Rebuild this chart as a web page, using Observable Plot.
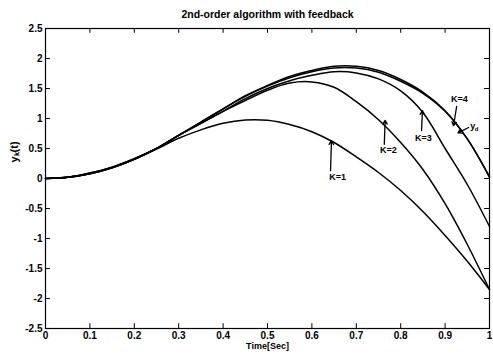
<!DOCTYPE html>
<html>
<head>
<meta charset="utf-8">
<script src="https://cdn.jsdelivr.net/npm/d3@7"></script>
<script src="https://cdn.jsdelivr.net/npm/@observablehq/plot@0.6"></script>
<style>
  html, body { margin: 0; padding: 0; background: white; }
</style>
</head>
<body>
<div id="chart"></div>
<script>
const title = "2nd-order algorithm with feedback";
const xLabel = "Time[Sec]";
const yLabel = "yₖ(t)";
const xTicks = [0, 0.1, 0.2, 0.3, 0.4, 0.5, 0.6, 0.7, 0.8, 0.9, 1];
const yTicks = [-2.5, -2, -1.5, -1, -0.5, 0, 0.5, 1, 1.5, 2, 2.5];
const xDomain = [0, 1];
const yDomain = [-2.5, 2.5];

const t  = [0, 0.05, 0.1, 0.15, 0.2, 0.25, 0.3, 0.35, 0.4, 0.45, 0.5, 0.55, 0.6, 0.65, 0.7, 0.75, 0.8, 0.85, 0.9, 0.95, 1];
const yd = [0, 0.02, 0.09, 0.19, 0.33, 0.5, 0.72, 0.94, 1.16, 1.37, 1.54, 1.68, 1.78, 1.84, 1.84, 1.77, 1.62, 1.42, 1.12, 0.66, 0.03];
const k4 = [0, 0.02, 0.09, 0.19, 0.33, 0.5, 0.72, 0.94, 1.16, 1.38, 1.55, 1.7, 1.8, 1.87, 1.87, 1.8, 1.65, 1.44, 1.13, 0.66, 0.02];
const k3 = [0, 0.02, 0.08, 0.18, 0.32, 0.5, 0.72, 0.92, 1.12, 1.33, 1.5, 1.63, 1.72, 1.78, 1.76, 1.66, 1.46, 1.1, 0.5, -0.1, -0.8];
const k2 = [0, 0.02, 0.08, 0.18, 0.32, 0.5, 0.72, 0.92, 1.12, 1.3, 1.47, 1.59, 1.61, 1.52, 1.28, 0.98, 0.6, 0.15, -0.42, -1.1, -1.85];
const k1 = [0, 0.02, 0.08, 0.18, 0.32, 0.49, 0.67, 0.81, 0.92, 0.975, 0.97, 0.9, 0.78, 0.6, 0.36, 0.1, -0.2, -0.55, -0.95, -1.38, -1.85];

const seriesNames = ["y_d", "K=4", "K=3", "K=2", "K=1"];
const seriesValues = [yd, k4, k3, k2, k1];

const lineData = seriesNames.flatMap((name, i) =>
  t.map((tt, j) => ({ k: name, t: tt, v: seriesValues[i][j] }))
);

// annotation labels and arrows (data coordinates)
const labelText = ["K=1", "K=2", "K=3", "K=4", "y"];
const labelT    = [0.658, 0.772, 0.851, 0.932, 0.962];
const labelV    = [0.02, 0.47, 0.68, 1.32, 0.87];
const arrowT1   = [0.642, 0.763, 0.847, 0.926, 0.953];
const arrowV1   = [0.13, 0.57, 0.80, 1.20, 0.85];
const arrowT2   = [0.644, 0.765, 0.849, 0.919, 0.929];
const arrowV2   = [0.63, 0.97, 1.13, 0.88, 0.76];

const labels = labelText.map((s, i) => ({ s, t: labelT[i], v: labelV[i] }));
const arrows = arrowT1.map((a, i) => ({ x1: a, y1: arrowV1[i], x2: arrowT2[i], y2: arrowV2[i] }));

const tickLenY = 0.08;
const tickLenX = 0.011;

const chart = Plot.plot({
  width: 493,
  height: 354,
  marginLeft: 45,
  marginRight: 4,
  marginTop: 28,
  marginBottom: 26,
  x: { domain: xDomain },
  y: { domain: yDomain },
  style: { fontFamily: "'Liberation Sans', Arial, sans-serif", fontWeight: "bold", fontSize: "10px", background: "white", color: "black" },
  marks: [
    Plot.axisX({ ticks: xTicks, tickSize: 0, tickPadding: 3, label: null, tickFormat: d => String(d), fontSize: 10 }),
    Plot.axisY({ ticks: yTicks, tickSize: 0, tickPadding: 3, label: null, tickFormat: d => String(d), fontSize: 10 }),
    Plot.ruleX(xTicks, { x: d => d, y1: yDomain[0], y2: yDomain[0] + tickLenY, stroke: "black" }),
    Plot.ruleX(xTicks, { x: d => d, y1: yDomain[1], y2: yDomain[1] - tickLenY, stroke: "black" }),
    Plot.ruleY(yTicks, { y: d => d, x1: xDomain[0], x2: xDomain[0] + tickLenX, stroke: "black" }),
    Plot.ruleY(yTicks, { y: d => d, x1: xDomain[1], x2: xDomain[1] - tickLenX, stroke: "black" }),
    Plot.frame({ stroke: "black", strokeWidth: 1.2 }),
    Plot.line(lineData, { x: "t", y: "v", z: "k", curve: "catmull-rom", stroke: "black", strokeWidth: 1.5 }),
    Plot.arrow(arrows, { x1: "x1", y1: "y1", x2: "x2", y2: "y2", stroke: "black", strokeWidth: 1.3, headLength: 5 }),
    Plot.text(labels, { x: "t", y: "v", text: "s", fontSize: 9, fontWeight: "bold", fill: "black" }),
    Plot.text(labels.filter(d => d.s === "y"), { x: "t", y: "v", text: () => "d", dx: 4, dy: 3, fontSize: 6, fontWeight: "bold", fill: "black" }),
    Plot.text([title], { frameAnchor: "top", dy: -18, fontSize: 10.5, fontWeight: "bold", fill: "black" }),
    Plot.text([xLabel], { frameAnchor: "bottom", dy: 20, fontSize: 9, fontWeight: "bold", fill: "black" }),
    Plot.text([yLabel], { frameAnchor: "left", dx: -31, dy: -16, rotate: -90, fontSize: 11, fontWeight: "bold", fill: "black" })
  ]
});
document.getElementById("chart").appendChild(chart);
</script>
</body>
</html>
